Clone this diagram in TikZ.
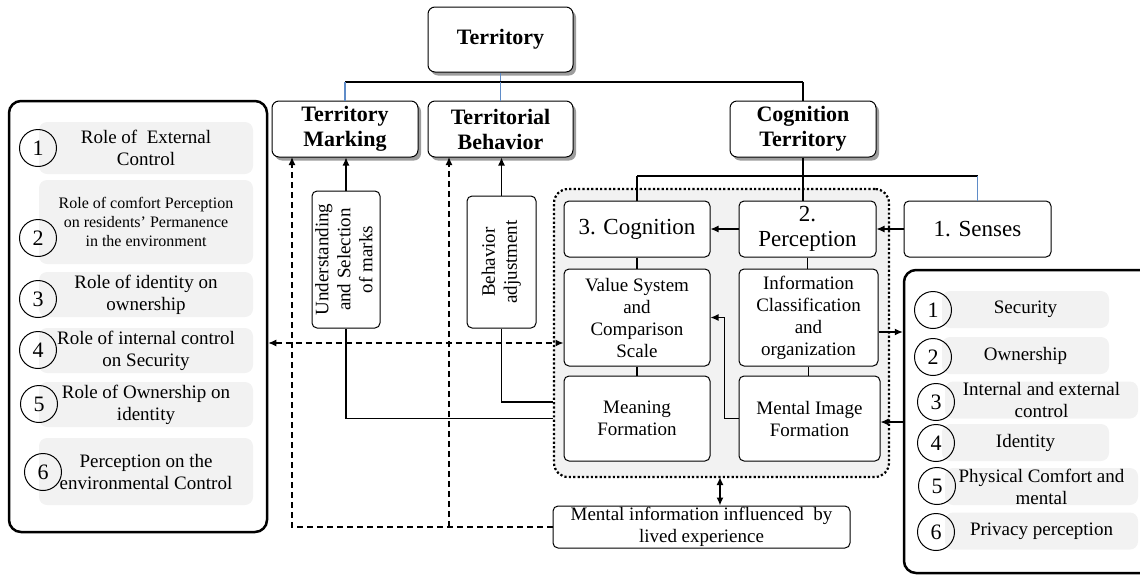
\documentclass[tikz,border=0pt]{standalone}
\usepackage{fontspec}
\setmainfont{Liberation Serif}
\usetikzlibrary{arrows.meta,shadows}

\definecolor{itemgray}{RGB}{242,242,242}
\definecolor{linkblue}{RGB}{95,140,200}

\tikzset{
  titlebox/.style={draw, fill=white, rounded corners=7pt, line width=1pt, align=center, inner sep=0pt,
    font=\fontsize{22}{25}\selectfont\bfseries,
    drop shadow={shadow xshift=3pt, shadow yshift=-3.5pt, opacity=.55, fill=black!70}},
  stepbox/.style={draw, fill=white, rounded corners=5pt, line width=1pt, align=center, inner sep=0pt,
    font=\fontsize{23}{25}\selectfont},
  textbox/.style={draw, fill=white, rounded corners=5pt, line width=1pt, align=center, inner sep=0pt,
    font=\fontsize{19}{22}\selectfont},
  itembox/.style={fill=itemgray, rounded corners=8pt, align=center, inner sep=0pt,
    font=\fontsize{19}{22}\selectfont},
  numcirc/.style={draw, circle, line width=1pt, minimum size=37pt, inner sep=0pt,
    font=\fontsize{22}{22}\selectfont},
  panel/.style={draw, line width=2.5pt, rounded corners=12pt},
  area/.style={draw, fill=itemgray, line width=2.2pt, dash pattern=on 2.2pt off 2.2pt, rounded corners=14pt},
  dashlink/.style={line width=1.3pt, dash pattern=on 6pt off 4pt}
}

\begin{document}
\begin{tikzpicture}[x=1pt, y=-1pt, >={Latex[length=8pt,width=7pt]}, line width=1.1pt]
  \useasboundingbox (0,0) rectangle (1140,574);

  % Cognition area and side panels
  \node[area, minimum width=335, minimum height=288] (cogarea) at (721.5,333) {};
  \node[panel, minimum width=258, minimum height=431] (leftpanel) at (138,316.5) {};
  \node[panel, minimum width=250, minimum height=303] (rightpanel) at (1029,421.5) {};

  % Left list
  \node[itembox, minimum width=214, minimum height=52] (l1) at (146,148) {Role of~ External\\Control};
  \node[itembox, minimum width=214, minimum height=84, font=\fontsize{16}{19}\selectfont] (l2) at (146,222)
    {Role of comfort Perception\\on residents' Permanence\\in the environment};
  \node[itembox, minimum width=214, minimum height=45] (l3) at (146,294.5) {Role of identity on\\ownership};
  \node[itembox, minimum width=214, minimum height=45] (l4) at (146,350.5) {Role of internal control\\on Security};
  \node[itembox, minimum width=214, minimum height=45] (l5) at (146,404.5) {Role of Ownership on\\identity};
  \node[itembox, minimum width=214, minimum height=67] (l6) at (146,471.5) {Perception on the\\environmental Control};

  \node[numcirc] (ln1) at (38,148) {1};
  \node[numcirc] (ln2) at (38,238) {2};
  \node[numcirc] (ln3) at (38,299) {3};
  \node[numcirc] (ln4) at (38,350) {4};
  \node[numcirc] (ln5) at (39,404) {5};
  \node[numcirc] (ln6) at (43,472) {6};

  % Right list
  \node[itembox, minimum width=167, minimum height=37] (r1) at (1025.5,309.5) {Security};
  \node[itembox, minimum width=167, minimum height=37] (r2) at (1025.5,355.5) {Ownership};
  \node[itembox, minimum width=193, minimum height=37] (r3) at (1041.5,400) {Internal and external\\control};
  \node[itembox, minimum width=167, minimum height=37] (r4) at (1025.5,442.5) {Identity};
  \node[itembox, minimum width=193, minimum height=37] (r5) at (1041.5,486.5) {Physical Comfort and\\mental};
  \node[itembox, minimum width=193, minimum height=37] (r6) at (1041.5,531) {Privacy perception};

  \node[numcirc] (rn1) at (933,310) {1};
  \node[numcirc] (rn2) at (933,357) {2};
  \node[numcirc] (rn3) at (936,402) {3};
  \node[numcirc] (rn4) at (936,443) {4};
  \node[numcirc] (rn5) at (937,486) {5};
  \node[numcirc] (rn6) at (936,532) {6};

  % Titles
  \node[titlebox, minimum width=145, minimum height=65] (territory) at (500.5,39.5) {Territory};
  \node[titlebox, minimum width=146, minimum height=56] (marking) at (345,129) {Territory\\Marking};
  \node[titlebox, minimum width=145, minimum height=56] (behavior) at (500.5,129) {Territorial\\Behavior};
  \node[titlebox, minimum width=146, minimum height=56] (cogterr) at (803,129) {Cognition\\Territory};

  % Steps
  \node[stepbox, minimum width=146, minimum height=56] (cognition) at (637,229) {3. Cognition};
  \node[stepbox, minimum width=137, minimum height=56] (perception) at (807.5,229) {2.\\Perception};
  \node[stepbox, minimum width=147, minimum height=56] (senses) at (977.5,229) {1. Senses};

  \node[textbox, minimum width=146, minimum height=97] (valuesys) at (637,317.5) {Value System\\and\\Comparison\\Scale};
  \node[textbox, minimum width=139, minimum height=97] (infoclass) at (808.5,317.5) {Information\\Classification\\and\\organization};
  \node[textbox, minimum width=146, minimum height=85] (meaning) at (637,418.5) {Meaning\\Formation};
  \node[textbox, minimum width=141, minimum height=85] (mentalimg) at (809.5,418.5) {Mental Image\\Formation};

  \node[textbox, minimum width=68, minimum height=137] (understanding) at (346,259.5)
    {\rotatebox{90}{\begin{tabular}{@{}c@{}}Understanding\\and Selection\\of marks\end{tabular}}};
  \node[textbox, minimum width=69, minimum height=132] (behadj) at (501.5,262)
    {\rotatebox{90}{\begin{tabular}{@{}c@{}}Behavior\\adjustment\end{tabular}}};

  \node[textbox, minimum width=297, minimum height=42] (mentalinfo) at (701.5,527)
    {Mental information influenced~ by\\lived experience};

  % Tree lines
  \coordinate (bus) at (0,82);
  \coordinate (bus2) at (0,176);
  \draw[linkblue] (territory.south) -- (territory.south |- bus);
  \draw (marking.north |- bus) -- (cogterr.north |- bus);
  \draw[linkblue] (marking.north |- bus) -- (marking.north);
  \draw[linkblue] (behavior.north |- bus) -- (behavior.north);
  \draw (cogterr.north |- bus) -- (cogterr.north);
  \draw (cogterr.south) -- (cogterr.south |- perception.north);
  \draw (cognition.north |- bus2) -- (senses.north |- bus2);
  \draw (cognition.north |- bus2) -- (cognition.north);
  \draw[linkblue] (senses.north |- bus2) -- (senses.north);

  % Inside the area
  \draw (cognition) -- (valuesys);
  \draw (valuesys) -- (meaning);
  \draw (perception.south) -- (perception.south |- infoclass.north);
  \draw (infoclass.south) -- (infoclass.south |- mentalimg.north);
  \draw[->] (perception.west) -- (cognition.east);
  \draw[->] (senses.west) -- (perception.east);
  \draw[->] (mentalimg.west) -- ++(-14,0) |- (valuesys.east);
  \draw[->] (infoclass.east |- 0,332) -- (rightpanel.west |- 0,332);
  \draw[->] (rightpanel.west |- 0,422) -- (mentalimg.east |- 0,422);

  % Marks and behaviour
  \draw[->] (understanding.north) -- (understanding.north |- marking.south);
  \draw[->] (behadj.north) -- (behadj.north |- behavior.south);
  \draw (understanding.south) |- (cogarea.west |- meaning.west);
  \draw (behadj.south) |- (cogarea.west |- 0,402);

  % Lived experience
  \coordinate (dl) at (292,157);
  \coordinate (db) at (449,157);
  \coordinate (dv) at (720,477);
  \draw[dashlink, ->] (mentalinfo.west) -| (dl);
  \draw[dashlink, ->] (db |- mentalinfo.west) -- (db);
  \draw[dashlink, <->] (leftpanel.east |- 0,343) -- (valuesys.west |- 0,343);
  \draw[<->, line width=1.5pt] (dv) -- (dv |- mentalinfo.north);
\end{tikzpicture}
\end{document}
